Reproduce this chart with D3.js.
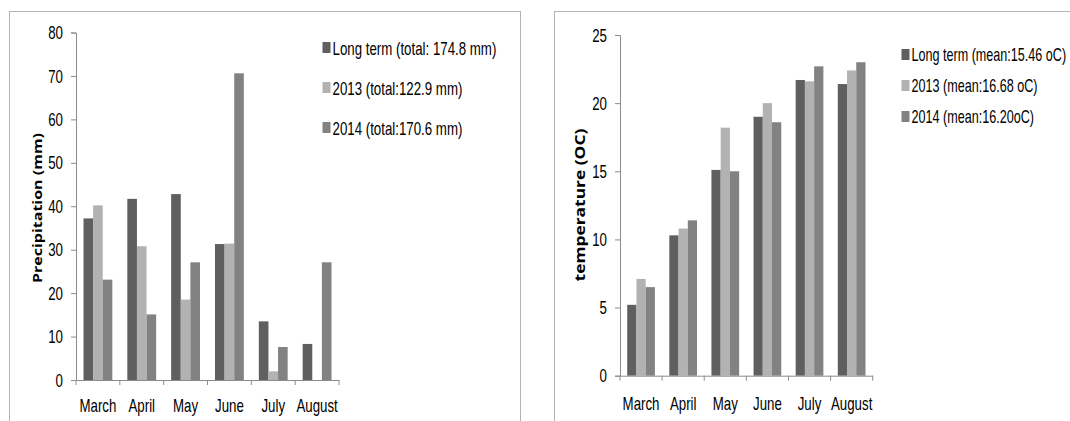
<!DOCTYPE html>
<html>
<head>
<meta charset="utf-8">
<script src="https://cdn.jsdelivr.net/npm/d3@7"></script>
<style>
  html, body { margin: 0; padding: 0; background: #fff; }
  svg { display: block; }
  .lbl { font-family: "Liberation Sans", Arial, sans-serif; font-size: 19px; fill: #000; }
  .ttl { font-family: "Open Sans", "DejaVu Sans", sans-serif; font-weight: bold; fill: #000; }
</style>
</head>
<body>
<svg id="chart" width="1070" height="421"></svg>
<script>
// Months shared by both panels
const months = ["March", "April", "May", "June", "July", "August"];

// Monthly precipitation (mm)
const precipLongTerm = [37.2, 41.7, 42.8, 31.3, 13.5, 8.3];
const precip2013 = [40.2, 30.8, 18.5, 31.4, 2.0, 0];
const precip2014 = [23.1, 15.1, 27.1, 70.6, 7.6, 27.1];
const precipLegend = ["Long term (total: 174.8 mm)", "2013 (total:122.9 mm)", "2014 (total:170.6 mm)"];
const precipTicks = [0, 10, 20, 30, 40, 50, 60, 70, 80];

// Monthly mean temperature (oC)
const tempLongTerm = [5.2, 10.3, 15.1, 19.0, 21.7, 21.4];
const temp2013 = [7.1, 10.8, 18.2, 20.0, 21.6, 22.4];
const temp2014 = [6.5, 11.4, 15.0, 18.6, 22.7, 23.0];
const tempLegend = ["Long term (mean:15.46 oC)", "2013 (mean:16.68 oC)", "2014 (mean:16.20oC)"];
const tempTicks = [0, 5, 10, 15, 20, 25];

const seriesColors = ["#5f5f5f", "#b2b2b2", "#828282"];
const NARROW = 0.70;   // horizontal squeeze for a narrow look

const svg = d3.select("#chart");

// squeeze text horizontally around its anchor point
function narrow(sel, sx) {
  sel.each(function () {
    const t = d3.select(this);
    const x = +t.attr("x") || 0;
    const y = +t.attr("y") || 0;
    t.attr("x", 0).attr("y", 0)
      .attr("transform", `translate(${x},${y}) scale(${sx},1)`);
  });
}

function drawPanel(opts) {
  const g = svg.append("g");

  // panel frame
  g.append("rect")
    .attr("x", opts.frame[0] + 0.5).attr("y", opts.frame[1] + 0.5)
    .attr("width", opts.frame[2]).attr("height", opts.frame[3])
    .attr("fill", "none").attr("stroke", "#b4b4b4").attr("stroke-width", 1);

  const x0 = d3.scaleBand().domain(months).range([opts.x0, opts.x1]).paddingInner(0).paddingOuter(0);
  const inner = 3 / 4.56;
  const x1 = d3.scaleBand().domain([0, 1, 2])
    .range([0, x0.bandwidth() * inner]).padding(0);
  const offset = (x0.bandwidth() - x0.bandwidth() * inner) / 2;
  const y = d3.scaleLinear().domain(opts.domain).range([opts.yBottom, opts.yTop]);

  opts.series.forEach((vals, si) => {
    g.append("g").selectAll("rect")
      .data(vals.map((v, i) => ({ m: months[i], v })))
      .join("rect")
      .attr("x", d => x0(d.m) + offset + x1(si))
      .attr("width", x1.bandwidth())
      .attr("y", d => y(d.v))
      .attr("height", d => y(0) - y(d.v))
      .attr("fill", seriesColors[si]);
  });

  // y axis
  const yAxis = g.append("g")
    .attr("transform", `translate(${opts.x0},0)`)
    .call(d3.axisLeft(y).tickValues(opts.ticks).tickSize(5).tickPadding(8).tickFormat(d3.format("d")));
  yAxis.select(".domain").attr("stroke", "#8c8c8c");
  yAxis.selectAll(".tick line").attr("stroke", "#8c8c8c");
  yAxis.selectAll(".tick text").attr("class", "lbl").attr("fill", null).call(narrow, NARROW);

  // x axis with ticks between categories
  const xAxis = g.append("g")
    .attr("transform", `translate(0,${opts.yBottom})`)
    .call(d3.axisBottom(x0).tickSize(0).tickPadding(opts.xPad));
  xAxis.select(".domain").attr("stroke", "#8c8c8c");
  xAxis.selectAll(".tick text").attr("class", "lbl").attr("fill", null).call(narrow, NARROW);
  const edges = months.map(m => x0(m)).concat([opts.x1]);
  xAxis.append("g").selectAll("line")
    .data(edges).join("line")
    .attr("x1", d => d).attr("x2", d => d)
    .attr("y1", 0).attr("y2", 5)
    .attr("stroke", "#8c8c8c");

  // axis title (rotated, squeezed across its height)
  g.append("text")
    .attr("class", "ttl")
    .style("font-size", opts.titleSize + "px")
    .attr("transform", `translate(${opts.titleX},${opts.titleY}) rotate(-90) scale(1,0.79)`)
    .attr("text-anchor", "middle")
    .attr("dominant-baseline", "central")
    .text(opts.title);

  // legend
  const lg = g.append("g");
  opts.legend.forEach((t, i) => {
    const cy = opts.legendY[i];
    lg.append("rect")
      .attr("x", opts.legendX).attr("y", cy - 6)
      .attr("width", 8).attr("height", 11)
      .attr("fill", seriesColors[i]);
    lg.append("text")
      .attr("class", "lbl")
      .style("font-size", opts.legendSize + "px")
      .attr("x", opts.legendX + 10).attr("y", cy)
      .attr("dominant-baseline", "central")
      .text(t)
      .call(narrow, NARROW);
  });
}

drawPanel({
  frame: [9, 11, 511, 420],
  x0: 76, x1: 339, yTop: 32.5, yBottom: 380,
  domain: [0, 80], ticks: precipTicks, xPad: 18.5,
  series: [precipLongTerm, precip2013, precip2014],
  title: "Precipitation (mm)", titleSize: 16, titleX: 37, titleY: 208,
  legend: precipLegend, legendSize: 19, legendX: 322.5, legendY: [48, 88, 128]
});

drawPanel({
  frame: [554, 11, 530, 420],
  x0: 620, x1: 872.7, yTop: 35, yBottom: 375.7,
  domain: [0, 25], ticks: tempTicks, xPad: 21,
  series: [tempLongTerm, temp2013, temp2014],
  title: "temperature (OC)", titleSize: 17.4, titleX: 580, titleY: 205,
  legend: tempLegend, legendSize: 18, legendX: 901.5, legendY: [55, 86, 117]
});
</script>
</body>
</html>
